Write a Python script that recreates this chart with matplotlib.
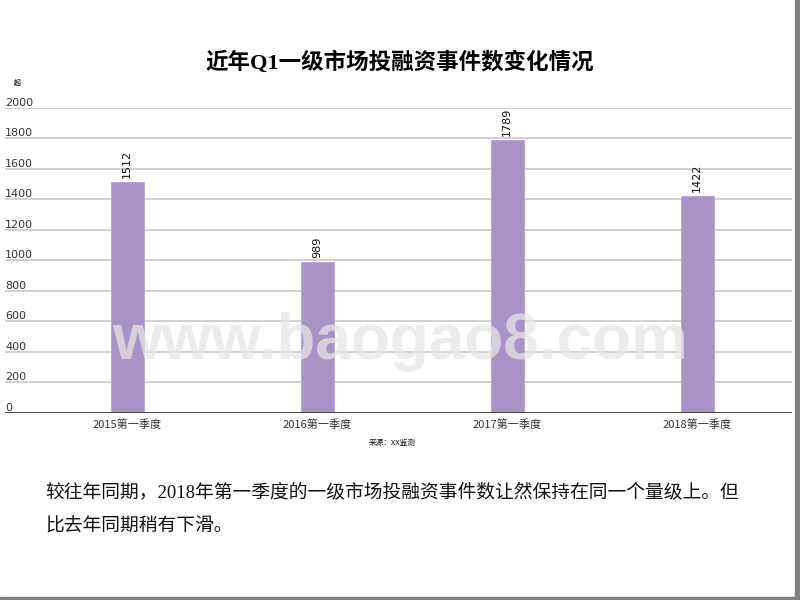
import matplotlib
matplotlib.use("Agg")
import matplotlib.pyplot as plt
from matplotlib.patches import Rectangle

plt.rcParams['font.family'] = ['Noto Sans CJK SC', 'DejaVu Sans']

categories = ['2015第一季度', '2016第一季度', '2017第一季度', '2018第一季度']
values = [1512, 989, 1789, 1422]
yticks = [0, 200, 400, 600, 800, 1000, 1200, 1400, 1600, 1800, 2000]
title = '近年Q1一级市场投融资事件数变化情况'
unit = '起'
source = '来源：XX监测'
note_lines = ['较往年同期，2018年第一季度的一级市场投融资事件数让然保持在同一个量级上。但',
              '比去年同期稍有下滑。']
watermark = 'www.baogao8.com'

W, H = 800, 600
fig = plt.figure(figsize=(8, 6), dpi=100)
fig.patch.set_facecolor('white')

# axes: x 5..792 px, y 108..413 px
ax = fig.add_axes([5 / W, 1 - 413 / H, (792 - 5) / W, (413 - 107.7) / H])
ax.set_facecolor('none')
x = list(range(len(categories)))
ax.set_xlim(-122 / 190, 3 + 95 / 190)
ax.set_ylim(0, 2000)

for t in yticks[1:]:
    ax.axhline(t, color='#c4c4c4', lw=1.1, zorder=1)
ax.axhline(0, color='#3a3a3a', lw=2, zorder=4)

bars = ax.bar(x, values, width=33 / 190, color='#a992c6', edgecolor='#b7a3d0',
              linewidth=0.6, zorder=3)
for xi, v in zip(x, values):
    ax.annotate(str(v), (xi, v), xytext=(0, 3), textcoords='offset points',
                rotation=90, ha='center', va='bottom', fontsize=8,
                color='#111111', family=['DejaVu Sans'], zorder=5)

for sp in ax.spines.values():
    sp.set_visible(False)
ax.set_yticks([])
ax.set_xticks(x)
ax.set_xticklabels(categories, fontsize=8, color='#333333')
ax.tick_params(axis='x', length=0, pad=4.5)

for t in yticks:
    ax.text(-122 / 190, t, str(t), transform=ax.transData, ha='left', va='bottom',
            fontsize=8, color='#333333', family=['DejaVu Sans'])

fig.text(17 / W, 1 - 82 / H, unit, fontsize=5, ha='center', va='center',
         color='#222222', fontweight='bold')

fig.text(400 / W, 1 - 63 / H, title, ha='center', va='center', fontsize=16.2,
         fontweight='bold', color='black', family=['Liberation Serif', 'Noto Sans CJK SC'])

fig.text(392 / W, 1 - 443 / H, source, ha='center', va='center', fontsize=5.5,
         color='#111111')

fig.text(45 / W, 1 - 492 / H, note_lines[0], ha='left', va='center', fontsize=13.5,
         color='#111111', family=['Liberation Serif', 'Noto Sans CJK SC'])
fig.text(45 / W, 1 - 527 / H, note_lines[1], ha='left', va='center', fontsize=13.5,
         color='#111111', family=['Liberation Serif', 'Noto Sans CJK SC'])

fig.text(400 / W, 1 - 342 / H, watermark, ha='center', va='center', fontsize=46,
         fontweight='bold', color='#e6e6e6', alpha=0.75, family=['Liberation Sans'],
         zorder=10)

# slide shadow on right and bottom
fig.patches.append(Rectangle((795 / W, 0), 5 / W, 1, transform=fig.transFigure,
                             color='#808080', zorder=20))
fig.patches.append(Rectangle((0, 0), 1, 3 / H, transform=fig.transFigure,
                             color='#808080', zorder=20))

fig.savefig('out.png', dpi=100, facecolor='white')
